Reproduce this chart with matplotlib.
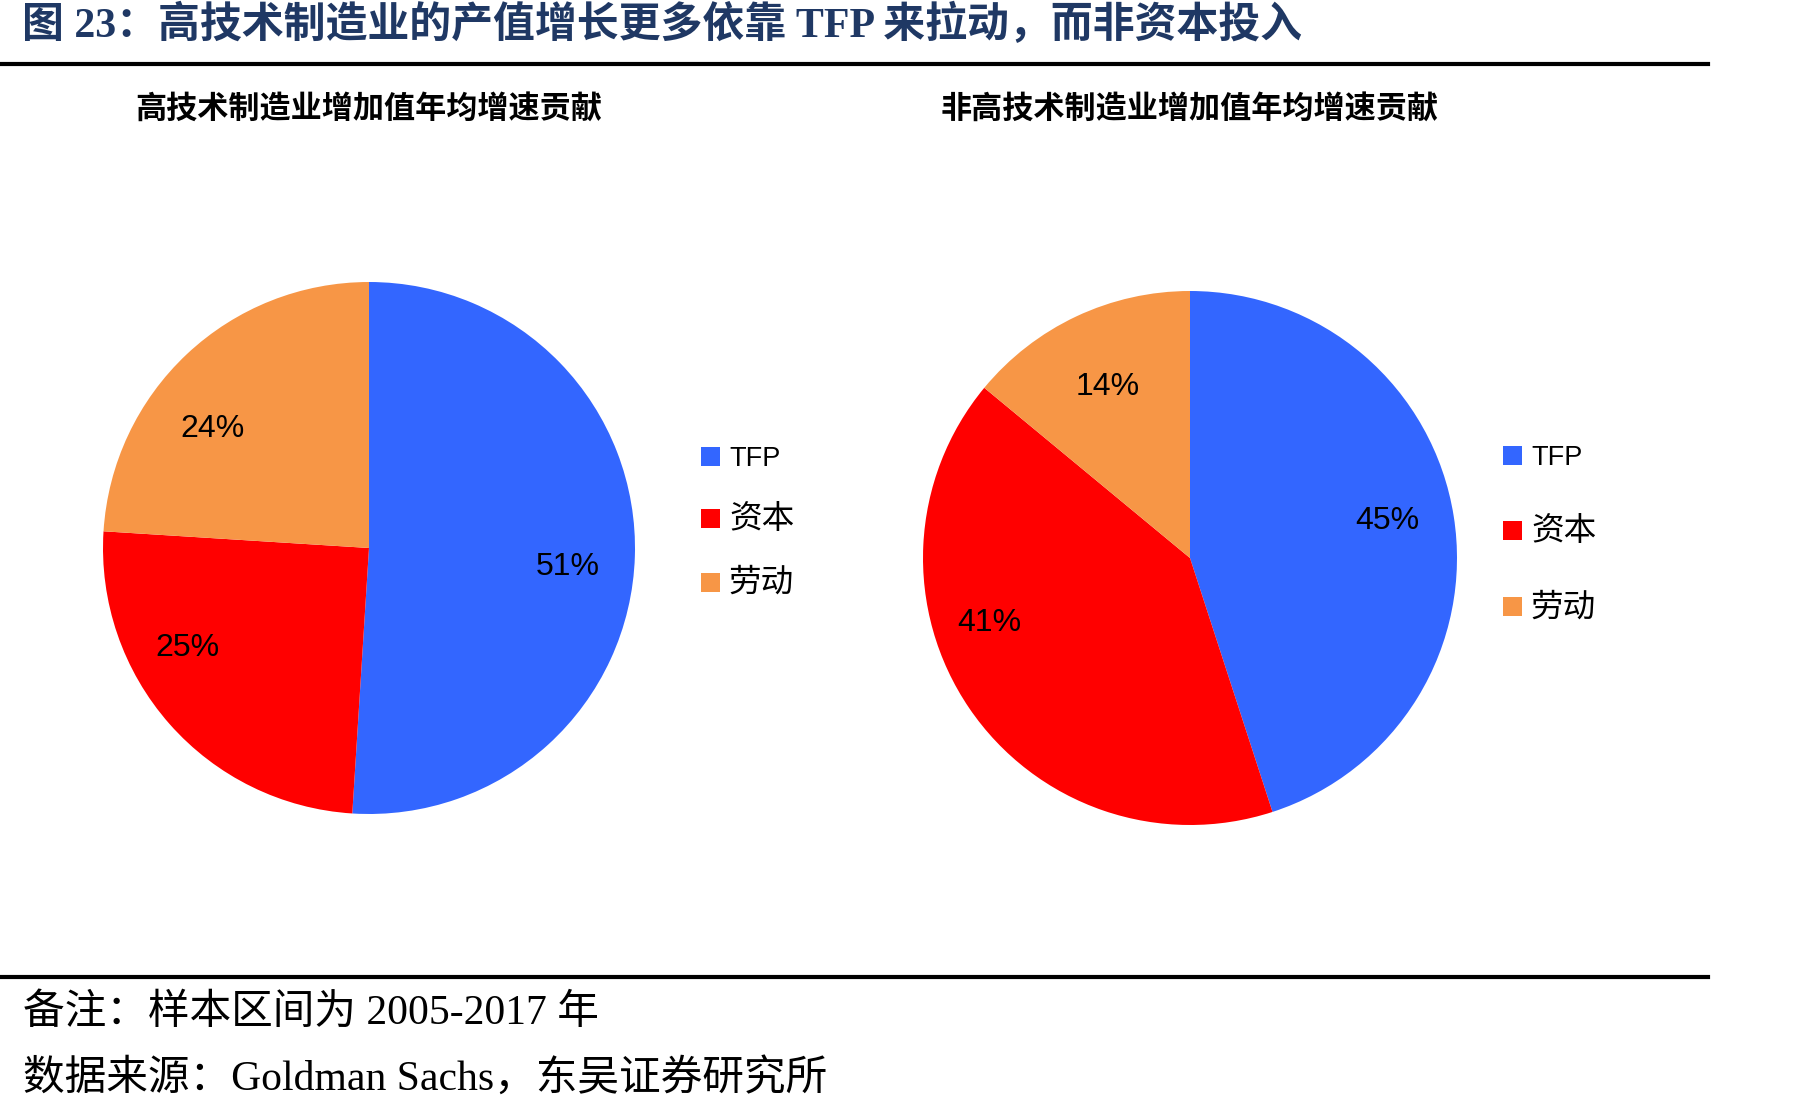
import matplotlib
matplotlib.use('Agg')
import matplotlib.pyplot as plt
import numpy as np

plt.rcParams['font.family'] = ['Liberation Sans', 'Noto Sans CJK SC', 'DejaVu Sans']

# data
labels = ['TFP', '资本', '劳动']
high_tech = [51, 25, 24]
non_high_tech = [45, 41, 14]
colors = ['#3366FF', '#FF0000', '#F79646']

title = '图 23：高技术制造业的产值增长更多依靠 TFP 来拉动，而非资本投入'
sub_left = '高技术制造业增加值年均增速贡献'
sub_right = '非高技术制造业增加值年均增速贡献'
note = '备注：样本区间为 2005-2017 年'
source = '数据来源：Goldman Sachs，东吴证券研究所'

# where each % label sits inside its wedge (share of the wedge's arc, radius)
frac_left = [0.48, 0.36, 0.61]
dist_left = [0.75, 0.78, 0.74]
frac_right = [0.51, 0.39, 0.51]
dist_right = [0.75, 0.79, 0.71]

W, H = 1807, 1112
fig = plt.figure(figsize=(W / 100, H / 100), dpi=100)

def px_axes(cx, cy, r):
    return fig.add_axes([(cx - r) / W, (H - cy - r) / H, 2 * r / W, 2 * r / H])

serif = ['Liberation Serif', 'Noto Sans CJK SC']

fig.text(22 / W, 1 - 25 / H, title, fontsize=30.2, fontweight='bold', color='#1F3864',
         family=serif, va='center', ha='left')
fig.add_artist(plt.Line2D([0, 1708 / W], [1 - 64 / H, 1 - 64 / H], color='black', lw=3))
fig.add_artist(plt.Line2D([0, 1708 / W], [1 - 977 / H, 1 - 977 / H], color='black', lw=3))
fig.text(23 / W, 1 - 1014 / H, note, fontsize=30, family=serif, va='center', ha='left')
fig.text(23 / W, 1 - 1079 / H, source, fontsize=30, family=serif, va='center', ha='left')

panels = [
    (high_tech, sub_left, (369, 548, 266), (701, 522), 1.2, frac_left, dist_left),
    (non_high_tech, sub_right, (1190, 558, 267), (1503, 534), 1.67, frac_right, dist_right),
]

for vals, sub, (cx, cy, r), (lx, ly), spacing, fr, ds in panels:
    ax = px_axes(cx, cy, r)
    wedges, texts, autotexts = ax.pie(vals, colors=colors, startangle=90, counterclock=False,
                                      autopct='%d%%', textprops={'fontsize': 23, 'color': 'black'})
    for w, t, f, d in zip(wedges, autotexts, fr, ds):
        ang = np.deg2rad(w.theta1 + f * (w.theta2 - w.theta1))
        t.set_position((d * np.cos(ang), d * np.sin(ang)))
    ax.set_xlim(-1, 1)
    ax.set_ylim(-1, 1)
    fig.text(cx / W, 1 - 109 / H, sub, fontsize=22.4, fontweight='bold',
             ha='center', va='center', family=['Noto Sans CJK SC'])
    leg = fig.legend(wedges, labels, loc='center left', bbox_to_anchor=(lx / W, 1 - ly / H),
                     frameon=False, fontsize=19.5, handlelength=0.7, handleheight=0.7,
                     handletextpad=0.33, labelspacing=spacing, borderpad=0, borderaxespad=0)
    for t in leg.get_texts()[1:]:
        t.set_fontsize(23.5)

fig.savefig('out.png', dpi=100)
